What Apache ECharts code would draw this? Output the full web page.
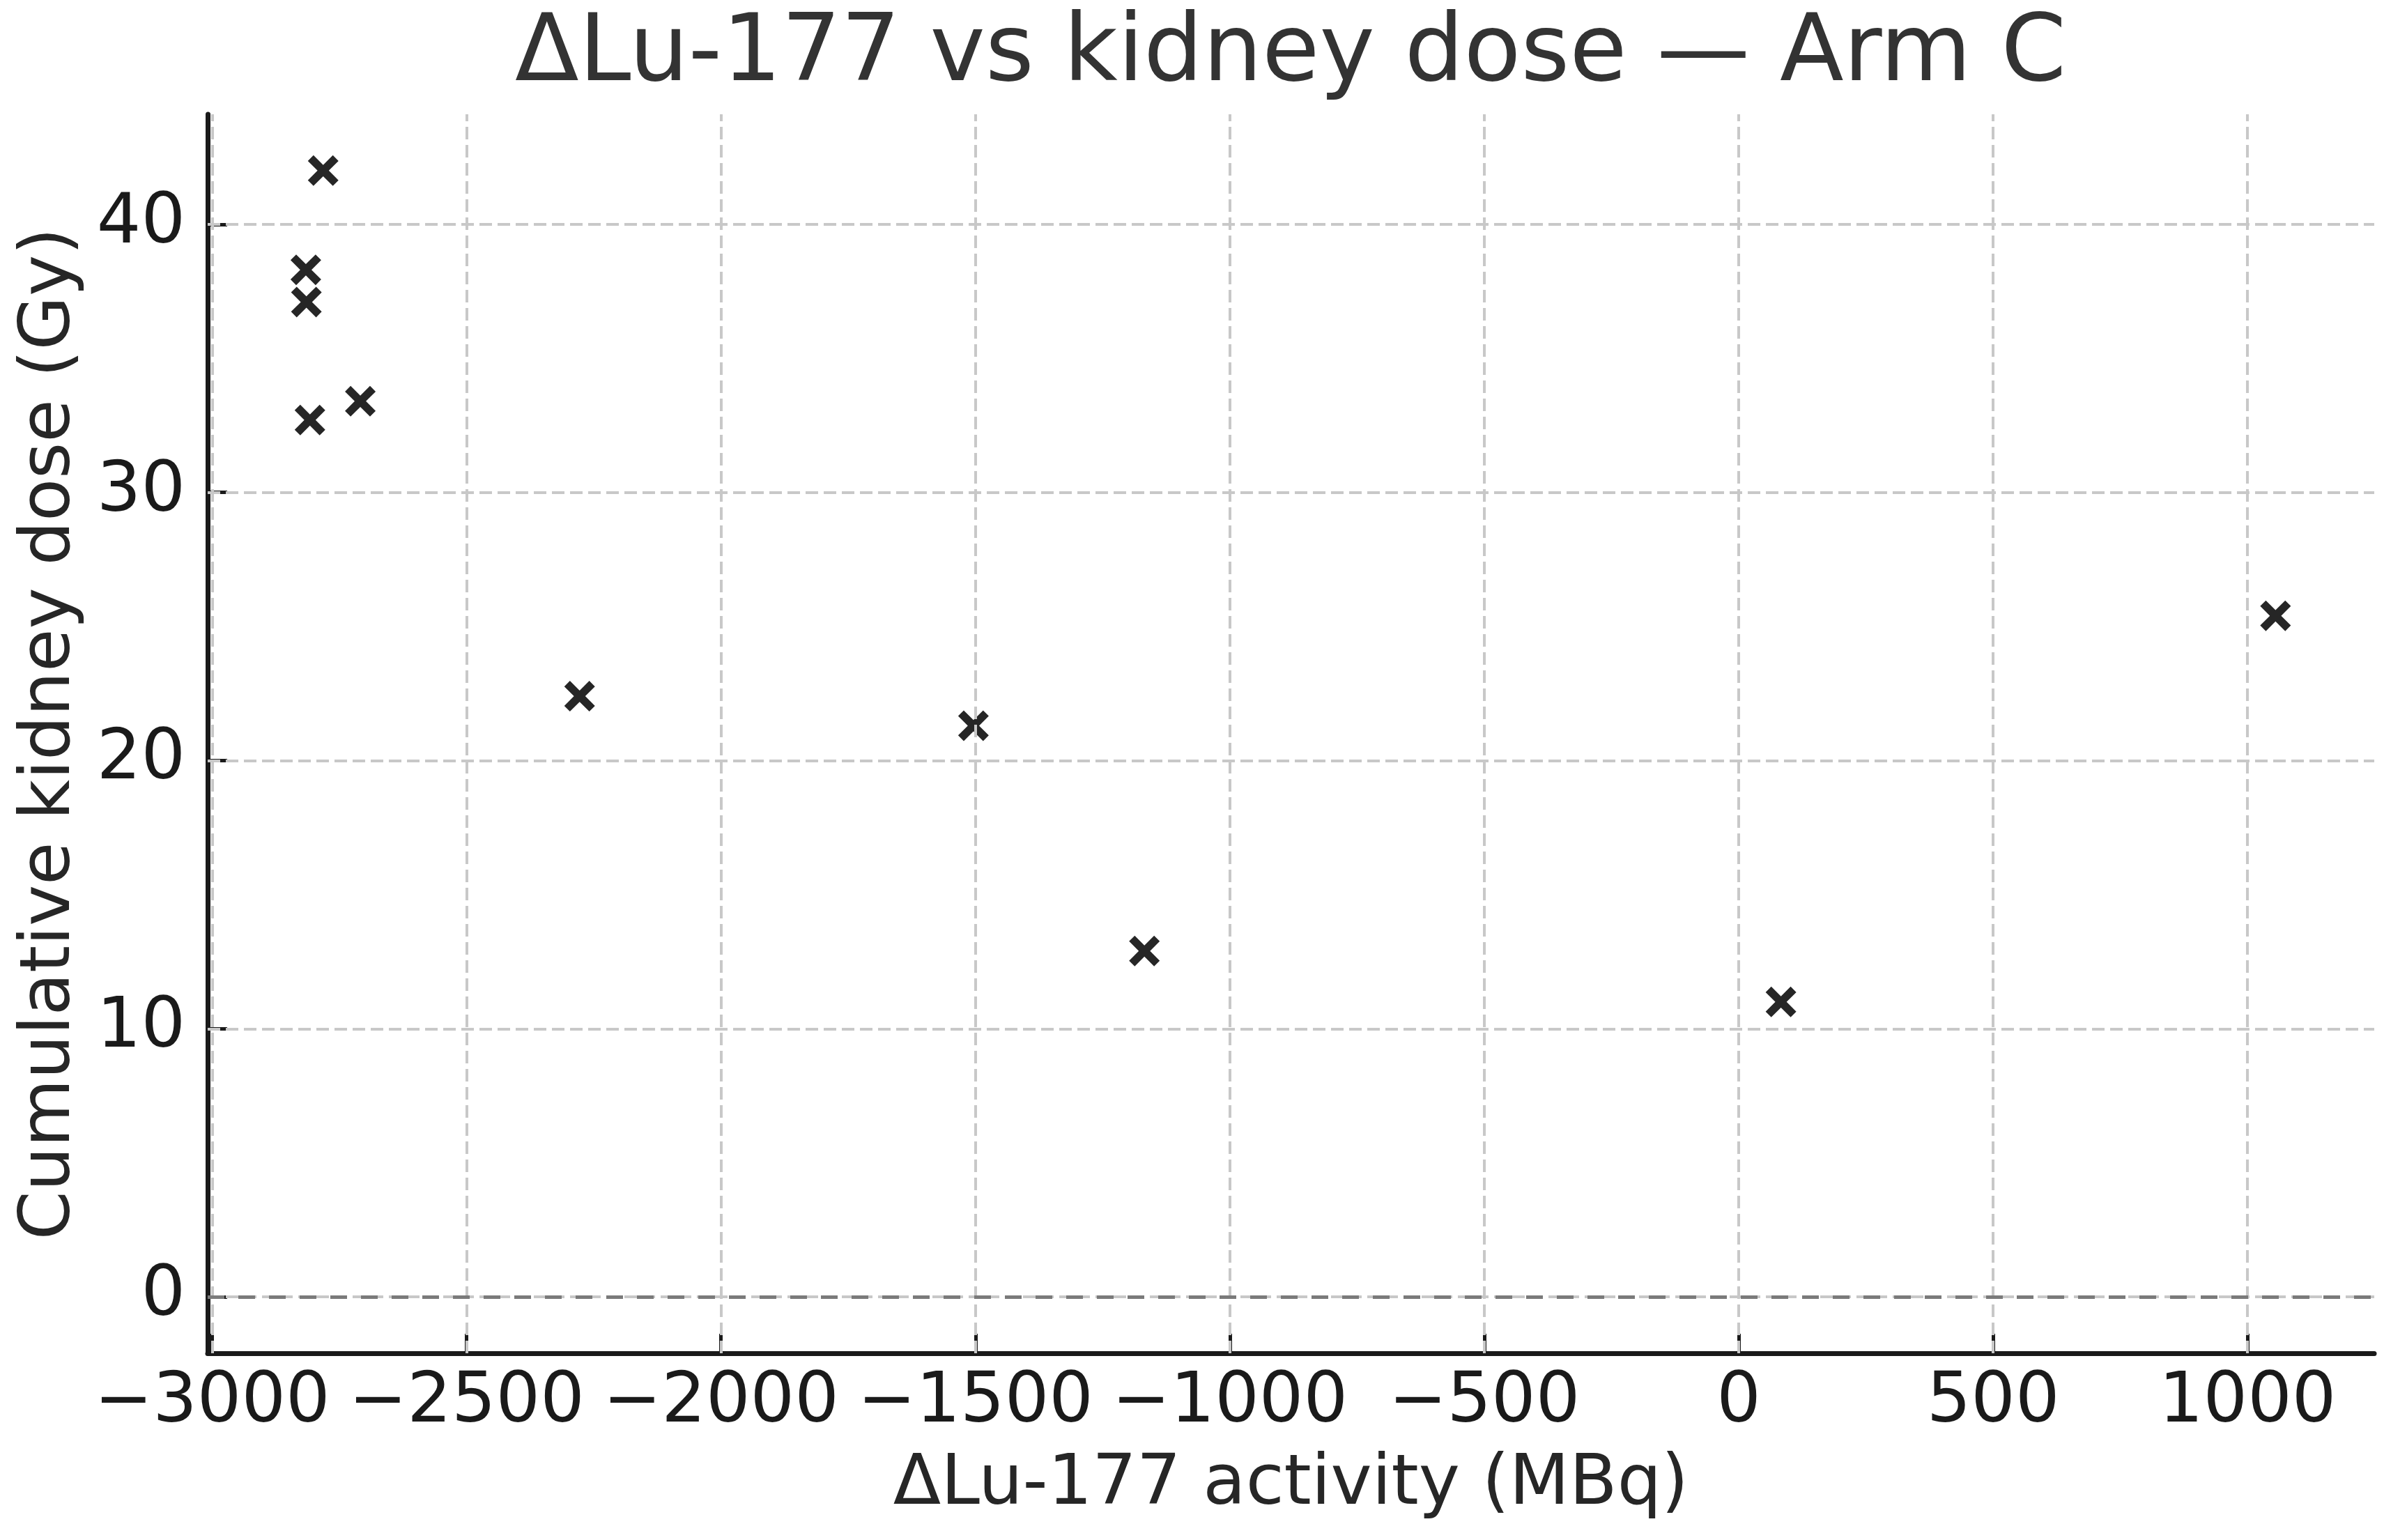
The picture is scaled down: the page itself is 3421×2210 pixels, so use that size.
<!DOCTYPE html>
<html>
<head>
<meta charset="utf-8">
<script src="https://cdn.jsdelivr.net/npm/echarts@6/dist/echarts.min.js"></script>
<style>
html,body{margin:0;padding:0;background:#fff;}
#chart{width:3421px;height:2210px;}
</style>
</head>
<body>
<div id="chart"></div>
<script>
// Data
const deltaLu = [-2782, -2816, -2815, -2808, -2709, -2278, -1504, -1168, 83, 1055];
const kidneyDose = [42.0, 38.3, 37.1, 32.7, 33.4, 22.4, 21.3, 12.9, 11.0, 25.4];
const xTicks = [-3000, -2500, -2000, -1500, -1000, -500, 0, 500, 1000];
const yTicks = [0, 10, 20, 30, 40];
const xRange = [-3009, 1249];
const yRange = [-2.1, 44.1];
const titleText = 'ΔLu-177 vs kidney dose — Arm C';
const xName = 'ΔLu-177 activity (MBq)';
const yName = 'Cumulative kidney dose (Gy)';

const FONT = 'DejaVu Sans';
const XMARK = 'path://M100,81.62L81.62,100L50,68.38L18.38,100L0,81.62L31.62,50L0,18.38L18.38,0L50,31.62L81.62,0L100,18.38L68.38,50Z';

const points = deltaLu.map((x, i) => [x, kidneyDose[i]]);

const gridStyle = {color: '#c8c8c8', width: 4, type: [18, 8]};
const gridLines = [];
xTicks.forEach(v => gridLines.push({xAxis: v, lineStyle: gridStyle}));
yTicks.forEach(v => gridLines.push({yAxis: v, lineStyle: gridStyle}));

const chart = echarts.init(document.getElementById('chart'), null, {renderer: 'canvas'});
chart.setOption({
  animation: false,
  backgroundColor: '#ffffff',
  title: {
    text: titleText,
    left: 1852,
    top: 13,
    padding: 0,
    textAlign: 'center',
    textStyle: {fontFamily: FONT, fontSize: 134, fontWeight: 'normal', color: '#333333'}
  },
  grid: {left: 298, right: 14, top: 164, bottom: 268, containLabel: false},
  xAxis: {
    type: 'value',
    min: xRange[0],
    max: xRange[1],
    name: xName,
    nameLocation: 'middle',
    nameGap: 140,
    nameTextStyle: {fontFamily: FONT, fontSize: 100, color: '#262626'},
    axisLine: {show: true, onZero: false, lineStyle: {color: '#1a1a1a', width: 7}},
    axisTick: {show: true, inside: true, length: 28, customValues: xTicks, lineStyle: {color: '#1a1a1a', width: 5}},
    axisLabel: {show: true, margin: 22, customValues: xTicks, fontFamily: FONT, fontSize: 100, color: '#1a1a1a',
      formatter: v => (v < 0 ? '\u2212' + Math.abs(v) : String(v))},
    splitLine: {show: false}
  },
  yAxis: {
    type: 'value',
    min: yRange[0],
    max: yRange[1],
    name: yName,
    nameLocation: 'middle',
    nameGap: 175,
    nameRotate: 90,
    nameTextStyle: {fontFamily: FONT, fontSize: 100, color: '#262626'},
    axisLine: {show: true, onZero: false, lineStyle: {color: '#1a1a1a', width: 7}},
    axisTick: {show: true, inside: true, length: 28, customValues: yTicks, lineStyle: {color: '#1a1a1a', width: 5}},
    axisLabel: {show: true, margin: 32, customValues: yTicks, fontFamily: FONT, fontSize: 100, color: '#1a1a1a'},
    splitLine: {show: false}
  },
  series: [
    {
      type: 'scatter',
      data: points,
      symbol: XMARK,
      symbolSize: 44,
      itemStyle: {color: '#262626', opacity: 1},
      z: 2
    },
    {
      type: 'scatter',
      data: [],
      z: 3,
      markLine: {
        silent: true,
        symbol: ['none', 'none'],
        label: {show: false},
        data: gridLines.concat([{yAxis: 0, lineStyle: {color: '#7a7a7a', width: 5, type: [24, 20]}}])
      }
    }
  ]
});
</script>
</body>
</html>
